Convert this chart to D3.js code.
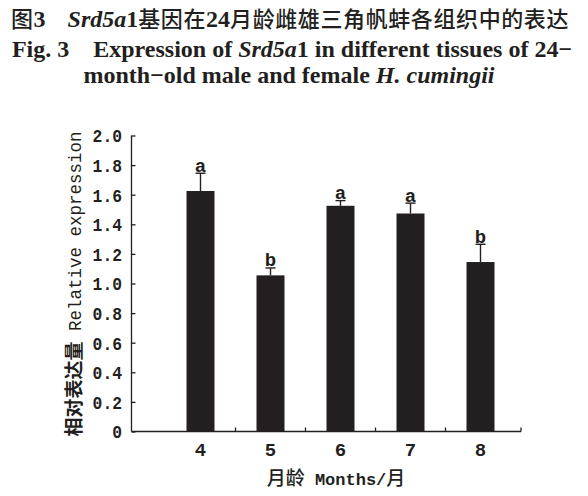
<!DOCTYPE html>
<html>
<head>
<meta charset="utf-8">
<script src="https://cdn.jsdelivr.net/npm/d3@7"></script>
<style>
  html, body { margin: 0; padding: 0; background: #fff; }
  svg { display: block; }
</style>
</head>
<body>
<svg id="chart" width="588" height="496"></svg>
<script>
// Relative expression of Srd5a1 by month of age
const months = ["4", "5", "6", "7", "8"];
const means = [1.625, 1.055, 1.525, 1.473, 1.145];
const errors = [0.12, 0.05, 0.035, 0.07, 0.12];
const groups = ["a", "b", "a", "a", "b"];
const yTicks = [0, 0.2, 0.4, 0.6, 0.8, 1.0, 1.2, 1.4, 1.6, 1.8, 2.0];

const ink = "#231f20";
const monoFont = "'Liberation Mono', 'DejaVu Sans Mono', monospace";
const cjkFont = "'Noto Sans CJK SC', sans-serif";
const serifFont = "'Liberation Serif', 'Times New Roman', serif";

const svg = d3.select("#chart");

// ---- title block ----
const title = svg.append("g").attr("fill", ink);
const cjk = (sel, s) => sel.append("tspan").attr("font-family", cjkFont).attr("font-weight", 500)
  .attr("font-size", 22).attr("letter-spacing", 0.6).text(s);
const lat = (sel, s, italic) => sel.append("tspan").attr("font-family", serifFont).attr("font-weight", "bold")
  .attr("font-style", italic ? "italic" : "normal").attr("font-size", 24).text(s);

const t1 = title.append("text").attr("x", 290).attr("y", 27).attr("text-anchor", "middle");
cjk(t1, "图");
lat(t1, "3");
t1.append("tspan").attr("font-size", 22).text("\u2003");
lat(t1, "Srd5a", true);
lat(t1, "1");
cjk(t1, "基因在");
lat(t1, "24");
cjk(t1, "月龄雌雄三角帆蚌各组织中的表达");

const t2 = title.append("text").attr("x", 292).attr("y", 57).attr("text-anchor", "middle")
  .attr("font-family", serifFont).attr("font-weight", "bold").attr("font-size", 24);
t2.append("tspan").text("Fig. 3\u2003Expression of ");
t2.append("tspan").attr("font-style", "italic").text("Srd5a");
t2.append("tspan").text("1 in different tissues of 24\u2212");

const t3 = title.append("text").attr("x", 289).attr("y", 83).attr("text-anchor", "middle")
  .attr("font-family", serifFont).attr("font-weight", "bold").attr("font-size", 24);
t3.append("tspan").text("month\u2212old male and female ");
t3.append("tspan").attr("font-style", "italic").text("H. cumingii");

// ---- scales ----
const y = d3.scaleLinear().domain([0, 2]).range([431.5, 135.5]);
const x = d3.scaleBand().domain(months).range([165.5, 515.5])
  .paddingInner(0.6).paddingOuter(0.3);
const axisLeftX = 131.5;
const axisRightX = 521;

// ---- bars ----
const bars = svg.append("g");
bars.selectAll("rect").data(months).join("rect")
  .attr("x", d => x(d))
  .attr("y", (d, i) => y(means[i]))
  .attr("width", x.bandwidth())
  .attr("height", (d, i) => y(0) - y(means[i]))
  .attr("fill", ink);

// error bars (upper only)
const err = svg.append("g").attr("stroke", ink).attr("stroke-width", 1.4);
months.forEach((m, i) => {
  const cx = x(m) + x.bandwidth() / 2;
  const top = y(means[i] + errors[i]);
  err.append("line").attr("x1", cx).attr("x2", cx).attr("y1", y(means[i])).attr("y2", top);
  err.append("line").attr("x1", cx - 5).attr("x2", cx + 5).attr("y1", top).attr("y2", top);
});

// significance letters
svg.append("g").selectAll("text").data(months).join("text")
  .attr("x", d => x(d) + x.bandwidth() / 2)
  .attr("y", (d, i) => y(means[i] + errors[i]) - 1.5)
  .attr("text-anchor", "middle")
  .attr("font-family", monoFont).attr("font-weight", "bold").attr("font-size", 19).attr("fill", ink)
  .text((d, i) => groups[i]);

// ---- y axis (ticks point inward) ----
const yAxis = svg.append("g").attr("transform", `translate(${axisLeftX},0)`)
  .call(d3.axisRight(y).tickValues(yTicks).tickSize(4).tickFormat(() => ""));
yAxis.select(".domain").attr("d", `M0,${y(2)}V${y(0)}`);
yAxis.selectAll("line, path").attr("stroke", ink).attr("stroke-width", 1.3);

const yFmt = d => d === 0 ? "0" : d3.format(".1f")(d);
svg.append("g").selectAll("text").data(yTicks).join("text")
  .attr("x", 122)
  .attr("y", d => y(d))
  .attr("dy", "0.36em")
  .attr("text-anchor", "end")
  .attr("font-family", monoFont).attr("font-weight", "bold").attr("font-size", 19).attr("fill", ink)
  .attr("textLength", d => yFmt(d).length * 9.8)
  .attr("lengthAdjust", "spacingAndGlyphs")
  .text(yFmt);

// ---- x axis ----
const xAxisG = svg.append("g").attr("stroke", ink).attr("stroke-width", 1.3);
xAxisG.append("line").attr("x1", axisLeftX).attr("x2", axisRightX).attr("y1", y(0)).attr("y2", y(0));
const tickXs = months.slice(0, -1).map(m => x(m) + x.bandwidth() / 2 + x.step() / 2).concat([axisRightX]);
xAxisG.selectAll("line.tk").data(tickXs).join("line").attr("class", "tk")
  .attr("x1", d => d).attr("x2", d => d).attr("y1", y(0)).attr("y2", y(0) - 4);

svg.append("g").selectAll("text").data(months).join("text")
  .attr("x", d => x(d) + x.bandwidth() / 2)
  .attr("y", 456)
  .attr("text-anchor", "middle")
  .attr("font-family", monoFont).attr("font-weight", "bold").attr("font-size", 19).attr("fill", ink)
  .text(d => d);

// ---- axis titles ----
const xt = svg.append("text").attr("x", 336).attr("y", 485).attr("text-anchor", "middle").attr("fill", ink);
xt.append("tspan").attr("font-family", cjkFont).attr("font-weight", 500).attr("font-size", 19).text("月龄");
xt.append("tspan").attr("font-family", monoFont).attr("font-weight", "bold").attr("font-size", 17).text(" Months/");
xt.append("tspan").attr("font-family", cjkFont).attr("font-weight", 500).attr("font-size", 19).text("月");

const yt = svg.append("text").attr("transform", "translate(81,284) rotate(-90)")
  .attr("text-anchor", "middle").attr("fill", ink);
yt.append("tspan").attr("font-family", cjkFont).attr("font-weight", 700).attr("font-size", 19).text("相对表达量");
yt.append("tspan").attr("font-family", monoFont).attr("font-size", 17.5).text(" Relative expression");
</script>
</body>
</html>
